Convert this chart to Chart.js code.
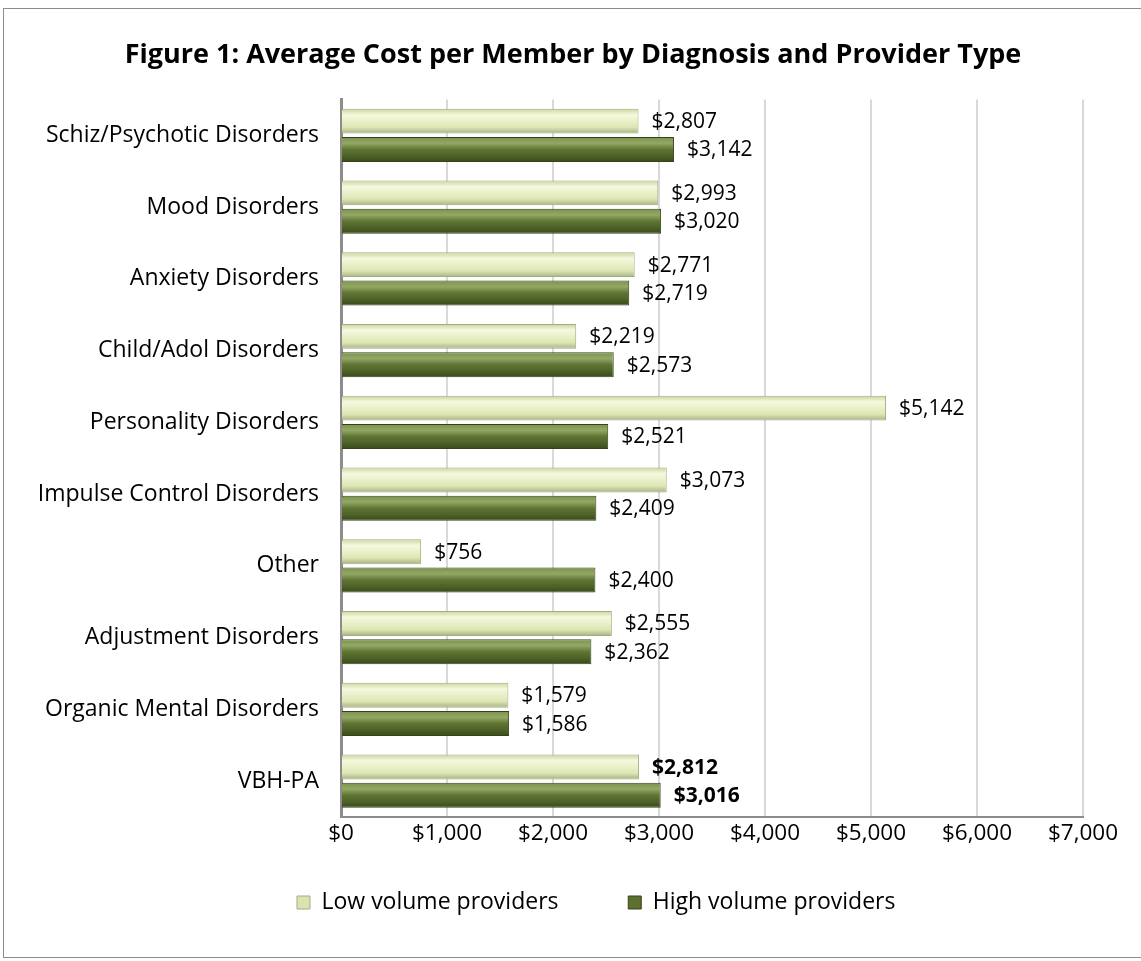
<style>
  body { margin: 0; background: #fff; }
  .frame {
    position: absolute;
    left: 3px;
    top: 8px;
    width: 1140px;
    height: 950px;
    border: 1px solid #8c8c8c;
    box-sizing: border-box;
  }
  .frame canvas { display: block; }
</style>

<div class="frame"><canvas id="myChart" width="1138" height="948"></canvas></div>
<script src="https://cdn.jsdelivr.net/npm/chart.js"></script>

<script>
  const categories = ['Schiz/Psychotic Disorders', 'Mood Disorders', 'Anxiety Disorders', 'Child/Adol Disorders',
    'Personality Disorders', 'Impulse Control Disorders', 'Other', 'Adjustment Disorders',
    'Organic Mental Disorders', 'VBH-PA'];
  const lowVolume = [2807, 2993, 2771, 2219, 5142, 3073, 756, 2555, 1579, 2812];
  const highVolume = [3142, 3020, 2719, 2573, 2521, 2409, 2400, 2362, 1586, 3016];
  const seriesNames = ['Low volume providers', 'High volume providers'];
  const xTicks = [0, 1000, 2000, 3000, 4000, 5000, 6000, 7000];

  const CAT_PCT = 0.79, BAR_PCT = 0.88;
  const FONT = 'Open Sans';
  const money = v => '$' + v.toLocaleString('en-US');

  // shaded bars: gradient placed from the category scale
  function barShade(stops) {
    return (c) => {
      const chart = c.chart, y = chart.scales && chart.scales.y;
      if (!y || c.dataIndex === undefined || y.bottom === y.top) return stops[2];
      const band = (y.bottom - y.top) / categories.length;
      const group = band * CAT_PCT;
      const h = group / 2 * BAR_PCT;
      const mid = y.getPixelForValue(c.dataIndex) - group / 4 + c.datasetIndex * group / 2;
      const g = chart.ctx.createLinearGradient(0, mid - h / 2, 0, mid + h / 2);
      stops.forEach((s, i) => g.addColorStop(i / (stops.length - 1), s));
      return g;
    };
  }
  const lightStops = ['#c9d49c', '#f5f9de', '#e9f0c9', '#dce6b3', '#a7b085'];
  const darkStops = ['#7b914a', '#94a866', '#5f7533', '#4f6228', '#3a4a1b'];

  const valueLabels = {
    id: 'valueLabels',
    afterDatasetsDraw(chart) {
      const ctx = chart.ctx;
      ctx.save();
      ctx.fillStyle = '#000';
      ctx.textBaseline = 'middle';
      ctx.textAlign = 'left';
      chart.data.datasets.forEach((ds, di) => {
        chart.getDatasetMeta(di).data.forEach((bar, i) => {
          const bold = i === categories.length - 1;
          ctx.font = (bold ? 'bold ' : '') + '21px "' + FONT + '"';
          ctx.fillText(money(ds.data[i]), bar.x + 13, bar.y + 1);
        });
      });
      ctx.restore();
    }
  };

  const ctx = document.getElementById('myChart');
  Chart.defaults.font.family = FONT;
  Chart.defaults.color = '#000';
  new Chart(ctx, {
    type: 'bar',
    data: {
      labels: categories,
      datasets: [
        {
          label: seriesNames[0],
          data: lowVolume,
          backgroundColor: barShade(lightStops),
          borderColor: '#a3ad80',
          borderWidth: 1,
          categoryPercentage: CAT_PCT,
          barPercentage: BAR_PCT,
        },
        {
          label: seriesNames[1],
          data: highVolume,
          backgroundColor: barShade(darkStops),
          borderColor: '#34431a',
          borderWidth: 1,
          categoryPercentage: CAT_PCT,
          barPercentage: BAR_PCT,
        }
      ]
    },
    options: {
      indexAxis: 'y',
      responsive: false,
      animation: false,
      layout: { padding: { left: 0, right: 0, top: 0, bottom: 33 } },
      scales: {
        x: {
          min: 0,
          max: 7000,
          afterBuildTicks: (s) => { s.ticks = xTicks.map(v => ({ value: v })); },
          afterFit: (s) => { s.height = 64; },
          ticks: { callback: (v) => money(v), font: { size: 22.5 }, padding: 3 },
          grid: { color: '#d9d9d9', lineWidth: 2, drawTicks: false },
          border: { color: '#8c8c8c', width: 2 },
        },
        y: {
          afterFit: (s) => { s.width = 337; },
          ticks: { font: { size: 23 }, padding: 22 },
          grid: { display: false, drawTicks: false },
          border: { color: '#8c8c8c', width: 3 },
        },
        // empty right-hand margin
        spacer: {
          type: 'linear',
          axis: 'y',
          position: 'right',
          afterFit: (s) => { s.width = 59; },
          ticks: { display: false },
          grid: { display: false, drawTicks: false },
          border: { display: false },
        }
      },
      plugins: {
        title: {
          display: true,
          text: 'Figure 1: Average Cost per Member by Diagnosis and Provider Type',
          font: { size: 27, weight: 'bold' },
          color: '#000',
          padding: { top: 30, bottom: 28 },
        },
        legend: {
          position: 'bottom',
          labels: {
            boxWidth: 13,
            boxHeight: 13,
            padding: 10,
            font: { size: 23 },
            generateLabels: () => [
              { text: '  ', fillStyle: 'rgba(0,0,0,0)', strokeStyle: 'rgba(0,0,0,0)', lineWidth: 0 },
              { text: seriesNames[0] + ' '.repeat(10), fillStyle: '#d9e4b0', strokeStyle: '#a3ad80', lineWidth: 1, datasetIndex: 0 },
              { text: seriesNames[1], fillStyle: '#5c7030', strokeStyle: '#34431a', lineWidth: 1, datasetIndex: 1 },
            ],
          },
        },
        tooltip: { enabled: false },
      },
    },
    plugins: [valueLabels],
  });
</script>
